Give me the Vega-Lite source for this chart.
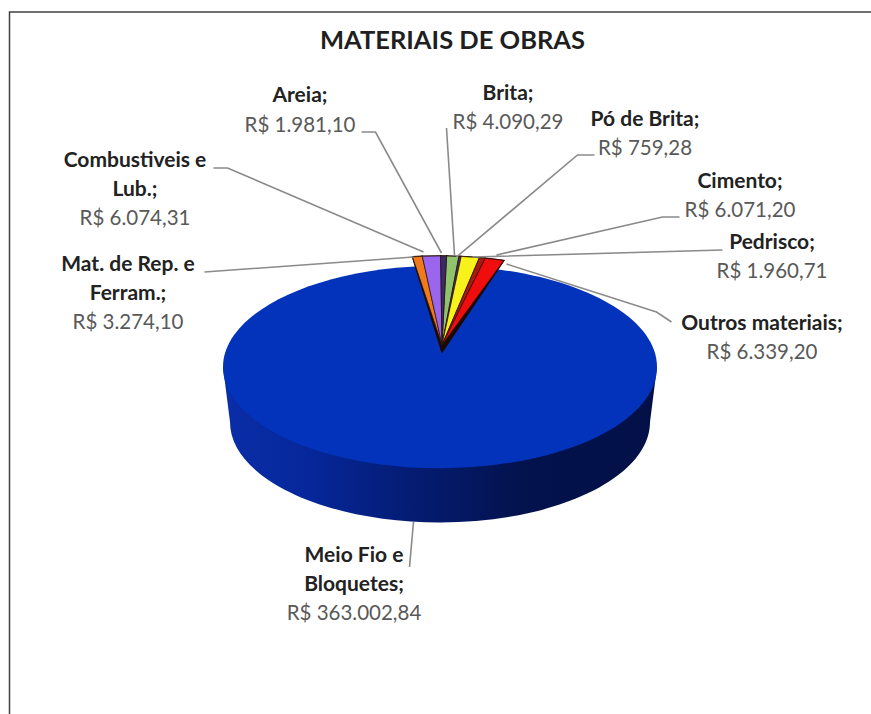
{
"$schema":"https://vega.github.io/schema/vega-lite/v6.json",
"width":871,"height":714,"padding":0,"autosize":"none","background":"#ffffff",
"config":{"view":{"stroke":null},"text":{"font":"Lato","fontSize":20.5,"align":"center","baseline":"alphabetic","lineHeight":28.5}},
"params":[
 {"name":"apexX","value":6.5},{"name":"apexY","value":-12},
 {"name":"rimX","value":4.5},{"name":"rimY","value":1},
 {"name":"rimA","value":216.5},{"name":"rimB","value":102},
 {"name":"turn","value":0.035}
],
"data":{"values":[
 {"material":"Brita","valor":4090.29,"ordem":1,"nome":["Brita;"],"rs":"R$ 4.090,29"},
 {"material":"Pó de Brita","valor":759.28,"ordem":2,"nome":["Pó de Brita;"],"rs":"R$ 759,28"},
 {"material":"Cimento","valor":6071.20,"ordem":3,"nome":["Cimento;"],"rs":"R$ 6.071,20"},
 {"material":"Pedrisco","valor":1960.71,"ordem":4,"nome":["Pedrisco;"],"rs":"R$ 1.960,71"},
 {"material":"Outros materiais","valor":6339.20,"ordem":5,"nome":["Outros materiais;"],"rs":"R$ 6.339,20"},
 {"material":"Meio Fio e Bloquetes","valor":363002.84,"ordem":6,"nome":["Meio Fio e","Bloquetes;"],"rs":"R$ 363.002,84"},
 {"material":"Mat. de Rep. e Ferram.","valor":3274.10,"ordem":7,"nome":["Mat. de Rep. e","Ferram.;"],"rs":"R$ 3.274,10"},
 {"material":"Combustiveis e Lub.","valor":6074.31,"ordem":8,"nome":["Combustiveis e","Lub.;"],"rs":"R$ 6.074,31"},
 {"material":"Areia","valor":1981.10,"ordem":9,"nome":["Areia;"],"rs":"R$ 1.981,10"}
]},
"transform":[
 {"joinaggregate":[{"op":"sum","field":"valor","as":"total"}]},
 {"window":[{"op":"sum","field":"valor","as":"acum"}],"sort":[{"field":"ordem","order":"ascending"}]},
 {"calculate":"turn+2*PI*(datum.acum-datum.valor)/datum.total","as":"t1"},
 {"calculate":"turn+2*PI*datum.acum/datum.total","as":"t2"},
 {"calculate":"(rimY-apexY)/rimB","as":"e"},
 {"calculate":"-datum.e*cos(datum.t1)+sqrt(pow(datum.e*cos(datum.t1),2)+1-datum.e*datum.e)","as":"r1"},
 {"calculate":"-datum.e*cos(datum.t2)+sqrt(pow(datum.e*cos(datum.t2),2)+1-datum.e*datum.e)","as":"r2"},
 {"calculate":"round(100*(rimX+rimA*datum.r1*sin(datum.t1)))/100+','+round(100*(rimY+rimB*(-datum.e-datum.r1*cos(datum.t1))))/100","as":"p1"},
 {"calculate":"round(100*(rimX+rimA*datum.r2*sin(datum.t2)))/100+','+round(100*(rimY+rimB*(-datum.e-datum.r2*cos(datum.t2))))/100","as":"p2"},
 {"calculate":"'L'+datum.p1+'A'+rimA+' '+rimB+' 0 0 1 '+datum.p2+'Z'","as":"rim"},
 {"calculate":"'M'+apexX+','+apexY+datum.rim","as":"fatia"},
 {"calculate":"'M'+apexX+','+(apexY+7)+datum.rim","as":"parede"}
],
"layer":[
 {"transform":[{"filter":"datum.ordem==6"}],
  "mark":{"type":"point","filled":true,"opacity":1,"size":4,"stroke":null,
   "shape":"M-212.5,10 L-205.5,65 A209 100 0 0 0 214.5,65 L221.5,10 Z",
   "fill":{"gradient":"linear","x1":0,"y1":0,"x2":1,"y2":0,"stops":[{"offset":0,"color":"#0a2ea8"},{"offset":0.2,"color":"#06279a"},{"offset":0.45,"color":"#041b70"},{"offset":0.7,"color":"#03124c"},{"offset":1,"color":"#031048"}]}},
  "encoding":{}},
 {"transform":[{"filter":"datum.ordem==6"}],
  "mark":{"type":"point","filled":true,"opacity":1,"size":4,"fill":"#0333bb","stroke":null,
   "shape":"M-212.5,10 A216.5 101 0 1 1 221.5,10 A216.5 101 0 1 1 -212.5,10 Z"},
  "encoding":{}},
 {"transform":[{"filter":"datum.ordem!=6"}],
  "mark":{"type":"point","filled":true,"opacity":1,"size":4,"fill":"#1a0a06","stroke":"#1a0a06","strokeWidth":1.5},
  "encoding":{"shape":{"field":"parede","type":"nominal","scale":null,"legend":null}}},
 {"transform":[{"filter":"datum.ordem!=6"}],
  "mark":{"type":"point","filled":true,"opacity":1,"size":4,"stroke":"#2a120a","strokeWidth":1,"strokeOpacity":0.7},
  "encoding":{
   "shape":{"field":"fatia","type":"nominal","scale":null,"legend":null},
   "fill":{"field":"material","type":"nominal","legend":null,"scale":{
     "domain":["Brita","Pó de Brita","Cimento","Pedrisco","Outros materiais","Mat. de Rep. e Ferram.","Combustiveis e Lub.","Areia"],
     "range":["#8fc46c","#4a2a78","#f6f21a","#a81a14","#f00d0d","#ee7a1c","#9a66ee","#3a2a6a"]}}}},
 {"transform":[{"filter":"datum.ordem==6"}],
  "mark":{"type":"point","filled":false,"opacity":1,"size":4,"stroke":"#8a8a8a","strokeWidth":1.6,
   "shape":"M-222,-189 L-208,-189 L-12,-105 M-74,-225 L-60,-225 L6,-104 M-231,-85 L-22,-100 M11,-229 L19,-102 M159,-202 L142,-202 L21,-100 M244,-140 L227,-140 L61,-102 M287,-107 L37,-100 M236,-35 L221,-45 L71,-93 M-22,165 L-26,210"},
  "encoding":{}},
 {"transform":[{"filter":"datum.ordem==6"}],
  "mark":{"type":"point","filled":false,"opacity":1,"size":4,"stroke":"#404040","strokeWidth":1.5,
   "shape":"M-426,357 L-426,-345 L436,-345"},
  "encoding":{}},
 {"transform":[{"filter":"datum.ordem==6"}],
  "mark":{"type":"text","font":"Lato","fontSize":25.5,"fontWeight":"bold","color":"#1f1f1f","dx":17,"dy":-308,"text":"MATERIAIS DE OBRAS"},
  "encoding":{}},

 {"transform":[{"filter":"datum.ordem==9"}],"mark":{"type":"text","fontSize":21,"fontWeight":"bold","color":"#222222","dx":-135.5,"dy":-255},"encoding":{"text":{"field":"nome"}}},
 {"transform":[{"filter":"datum.ordem==9"}],"mark":{"type":"text","color":"#595959","dx":-135.5,"dy":-225},"encoding":{"text":{"field":"rs"}}},

 {"transform":[{"filter":"datum.ordem==8"}],"mark":{"type":"text","fontSize":21,"fontWeight":"bold","color":"#222222","dx":-300.5,"dy":-190},"encoding":{"text":{"field":"nome"}}},
 {"transform":[{"filter":"datum.ordem==8"}],"mark":{"type":"text","color":"#595959","dx":-300.5,"dy":-132},"encoding":{"text":{"field":"rs"}}},

 {"transform":[{"filter":"datum.ordem==7"}],"mark":{"type":"text","fontSize":21,"fontWeight":"bold","color":"#222222","dx":-307.5,"dy":-86},"encoding":{"text":{"field":"nome"}}},
 {"transform":[{"filter":"datum.ordem==7"}],"mark":{"type":"text","color":"#595959","dx":-307.5,"dy":-28},"encoding":{"text":{"field":"rs"}}},

 {"transform":[{"filter":"datum.ordem==1"}],"mark":{"type":"text","fontSize":21,"fontWeight":"bold","color":"#222222","dx":72.5,"dy":-257},"encoding":{"text":{"field":"nome"}}},
 {"transform":[{"filter":"datum.ordem==1"}],"mark":{"type":"text","color":"#595959","dx":72.5,"dy":-228},"encoding":{"text":{"field":"rs"}}},

 {"transform":[{"filter":"datum.ordem==2"}],"mark":{"type":"text","fontSize":21,"fontWeight":"bold","color":"#222222","dx":209.5,"dy":-231},"encoding":{"text":{"field":"nome"}}},
 {"transform":[{"filter":"datum.ordem==2"}],"mark":{"type":"text","color":"#595959","dx":209.5,"dy":-202},"encoding":{"text":{"field":"rs"}}},

 {"transform":[{"filter":"datum.ordem==3"}],"mark":{"type":"text","fontSize":21,"fontWeight":"bold","color":"#222222","dx":304.5,"dy":-169},"encoding":{"text":{"field":"nome"}}},
 {"transform":[{"filter":"datum.ordem==3"}],"mark":{"type":"text","color":"#595959","dx":304.5,"dy":-140},"encoding":{"text":{"field":"rs"}}},

 {"transform":[{"filter":"datum.ordem==4"}],"mark":{"type":"text","fontSize":21,"fontWeight":"bold","color":"#222222","dx":336.5,"dy":-108},"encoding":{"text":{"field":"nome"}}},
 {"transform":[{"filter":"datum.ordem==4"}],"mark":{"type":"text","color":"#595959","dx":336.5,"dy":-79},"encoding":{"text":{"field":"rs"}}},

 {"transform":[{"filter":"datum.ordem==5"}],"mark":{"type":"text","fontSize":21,"fontWeight":"bold","color":"#222222","dx":326.5,"dy":-27},"encoding":{"text":{"field":"nome"}}},
 {"transform":[{"filter":"datum.ordem==5"}],"mark":{"type":"text","color":"#595959","dx":326.5,"dy":2},"encoding":{"text":{"field":"rs"}}},

 {"transform":[{"filter":"datum.ordem==6"}],"mark":{"type":"text","fontSize":21,"fontWeight":"bold","color":"#222222","dx":-81.5,"dy":205},"encoding":{"text":{"field":"nome"}}},
 {"transform":[{"filter":"datum.ordem==6"}],"mark":{"type":"text","color":"#595959","dx":-81.5,"dy":263},"encoding":{"text":{"field":"rs"}}}
]
}
